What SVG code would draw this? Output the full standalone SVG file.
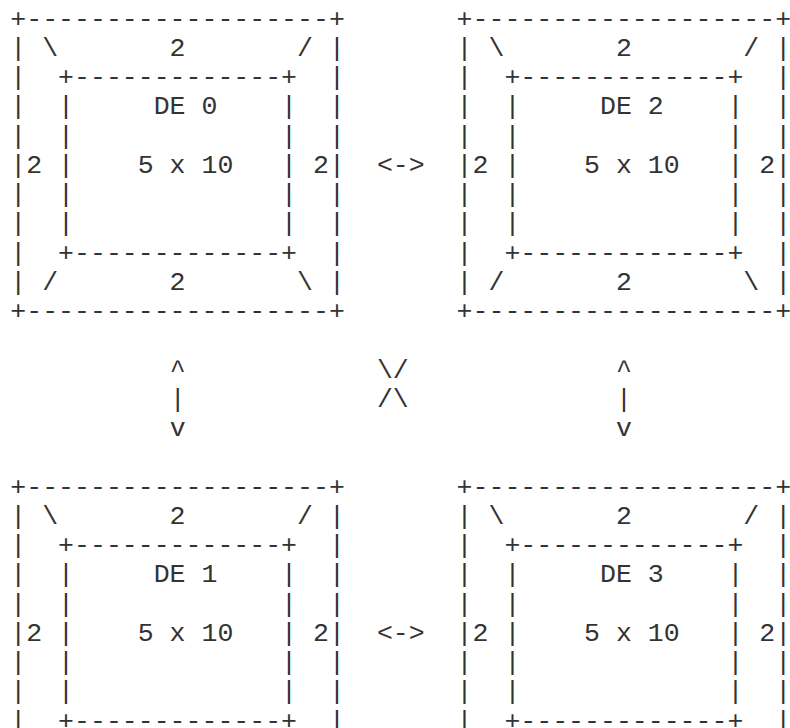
<svg xmlns="http://www.w3.org/2000/svg" width="790" height="728" viewBox="0 0 790 728" xml:space="preserve">
<style>
text{font-family:"Liberation Mono","Courier New",monospace;font-size:26.56px;fill:#333;white-space:pre}
</style>
<rect width="790" height="728" fill="#fff"/>
<g id="de0">
<text x="10.3" y="26.5">+-------------------+</text>
<text x="10.3" y="55.76">| \       2       / |</text>
<text x="10.3" y="85.02">|  +-------------+  |</text>
<text x="10.3" y="114.28">|  |     DE 0    |  |</text>
<text x="10.3" y="143.54">|  |             |  |</text>
<text x="10.3" y="172.8">|2 |    5 x 10   | 2|</text>
<text x="10.3" y="202.06">|  |             |  |</text>
<text x="10.3" y="231.32">|  |             |  |</text>
<text x="10.3" y="260.58">|  +-------------+  |</text>
<text x="10.3" y="289.84">| /       2       \ |</text>
<text x="10.3" y="319.1">+-------------------+</text>
</g>
<g id="de2">
<text x="456.6" y="26.5">+-------------------+</text>
<text x="456.6" y="55.76">| \       2       / |</text>
<text x="456.6" y="85.02">|  +-------------+  |</text>
<text x="456.6" y="114.28">|  |     DE 2    |  |</text>
<text x="456.6" y="143.54">|  |             |  |</text>
<text x="456.6" y="172.8">|2 |    5 x 10   | 2|</text>
<text x="456.6" y="202.06">|  |             |  |</text>
<text x="456.6" y="231.32">|  |             |  |</text>
<text x="456.6" y="260.58">|  +-------------+  |</text>
<text x="456.6" y="289.84">| /       2       \ |</text>
<text x="456.6" y="319.1">+-------------------+</text>
</g>
<g id="de1">
<text x="10.3" y="494.66">+-------------------+</text>
<text x="10.3" y="523.92">| \       2       / |</text>
<text x="10.3" y="553.18">|  +-------------+  |</text>
<text x="10.3" y="582.44">|  |     DE 1    |  |</text>
<text x="10.3" y="611.7">|  |             |  |</text>
<text x="10.3" y="640.96">|2 |    5 x 10   | 2|</text>
<text x="10.3" y="670.22">|  |             |  |</text>
<text x="10.3" y="699.48">|  |             |  |</text>
<text x="10.3" y="728.74">|  +-------------+  |</text>
</g>
<g id="de3">
<text x="456.6" y="494.66">+-------------------+</text>
<text x="456.6" y="523.92">| \       2       / |</text>
<text x="456.6" y="553.18">|  +-------------+  |</text>
<text x="456.6" y="582.44">|  |     DE 3    |  |</text>
<text x="456.6" y="611.7">|  |             |  |</text>
<text x="456.6" y="640.96">|2 |    5 x 10   | 2|</text>
<text x="456.6" y="670.22">|  |             |  |</text>
<text x="456.6" y="699.48">|  |             |  |</text>
<text x="456.6" y="728.74">|  +-------------+  |</text>
</g>
<g id="connectors">
<text x="376.9" y="172.8">&lt;-&gt;</text>
<text x="376.9" y="640.96">&lt;-&gt;</text>
<text x="169.7" y="377.62">^</text>
<text x="169.7" y="406.88">|</text>
<text x="169.7" y="436.14">v</text>
<text x="616" y="377.62">^</text>
<text x="616" y="406.88">|</text>
<text x="616" y="436.14">v</text>
<text x="376.9" y="377.62">\/</text>
<text x="376.9" y="406.88">/\</text>
</g>
</svg>
